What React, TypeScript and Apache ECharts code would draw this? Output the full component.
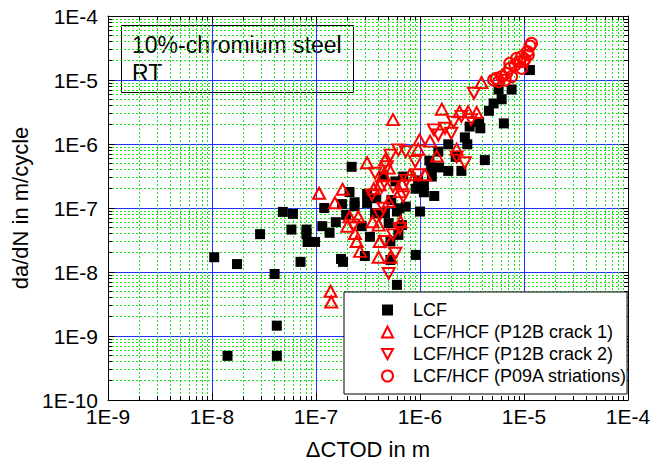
import React, { useEffect, useRef } from "react";
import * as echarts from "echarts";

const xTickValues = [1e-9, 1e-8, 1e-7, 1e-6, 1e-5, 1e-4];
const yTickValues = [1e-10, 1e-9, 1e-8, 1e-7, 1e-6, 1e-5, 1e-4];

const seriesNames = [
  "LCF",
  "LCF/HCF (P12B crack 1)",
  "LCF/HCF (P12B crack 2)",
  "LCF/HCF (P09A striations)",
];

const lcf: [number, number][] = [
  [1.05e-8, 1.7e-8], [1.74e-8, 1.33e-8], [2.9e-8, 3.9e-8], [4.0e-8, 9.3e-9], [4.8e-8, 8.7e-8],
  [6.0e-8, 8.1e-8], [5.8e-8, 4.6e-8], [7.1e-8, 1.44e-8], [8.1e-8, 4.6e-8], [8.1e-8, 3.9e-8],
  [8.3e-8, 2.95e-8], [9.8e-8, 2.95e-8], [4.2e-8, 1.45e-9], [4.2e-8, 4.9e-10], [1.41e-8, 4.9e-10],
  [1.2e-7, 1.0e-7], [1.15e-7, 5.2e-8], [1.35e-7, 4.1e-8], [1.55e-7, 6.0e-8], [1.78e-7, 1.15e-7],
  [1.74e-7, 1.6e-8], [1.82e-7, 1.44e-8], [2.1e-7, 1.78e-7], [2.35e-7, 1.23e-7], [2.35e-7, 1.07e-7],
  [1.95e-7, 7.8e-8], [2.75e-7, 5.2e-8], [3.1e-7, 1.66e-7], [3.1e-7, 1.2e-7], [2.95e-7, 1.78e-8],
  [3.3e-7, 3.55e-8], [7.6e-6, 7.1e-6], [5.7e-6, 7.1e-6], [6.1e-6, 5.0e-6], [5.1e-6, 4.3e-6],
  [4.6e-6, 3.3e-6], [6.4e-6, 2.1e-6], [3.7e-6, 2.2e-6], [3.8e-6, 1.76e-6], [3.0e-6, 1.87e-6],
  [2.7e-6, 1.27e-6], [2.85e-6, 9.9e-7], [1.87e-6, 9.9e-7], [2.2e-6, 6.3e-7], [4.2e-6, 5.6e-7],
  [2.5e-6, 3.8e-7], [1.87e-6, 3.8e-7], [1.52e-6, 4.3e-7], [1.23e-6, 5.5e-7], [1.28e-6, 4.3e-7],
  [1.3e-6, 3.1e-7], [1.09e-6, 2.3e-7], [9.6e-7, 2.7e-7], [9.1e-7, 2.0e-7], [1.09e-6, 1.76e-7],
  [1.37e-6, 1.54e-7], [7.3e-7, 1.05e-7], [6.3e-7, 9.9e-8], [6.0e-7, 8.8e-8], [1.0e-6, 8.8e-8],
  [5.3e-7, 1.33e-7], [2.2e-7, 4.4e-7], [3.8e-7, 1.42e-7], [3.7e-7, 8.3e-8], [4.6e-7, 8.3e-8],
  [5.0e-7, 5.8e-8], [6.7e-7, 5.4e-8], [6.2e-7, 3.8e-8], [5.2e-7, 3.0e-8], [5.2e-7, 1.54e-8],
  [9.1e-7, 1.85e-8], [4.45e-7, 3.1e-7], [5.8e-7, 2.6e-7], [6.9e-7, 3.1e-7], [1.5e-6, 7.6e-7],
  [1.14e-5, 1.43e-5], [6.0e-7, 6.3e-9],
];

const crack1: [number, number][] = [
  [3.9e-6, 9.1e-6], [5.5e-7, 2.4e-6], [1.62e-6, 3.5e-6], [2.4e-6, 3.2e-6], [2.9e-6, 3.2e-6],
  [3.5e-6, 3.1e-6], [9.9e-7, 1.16e-6], [1.25e-6, 1.11e-6], [9.6e-7, 8.3e-7], [1.45e-6, 6.5e-7],
  [2.25e-6, 8.3e-7], [3.1e-7, 5.1e-7], [1.8e-7, 1.96e-7], [1.52e-7, 1.21e-7], [4.6e-7, 5.6e-7],
  [5.0e-7, 4.2e-7], [4.45e-7, 3.3e-7], [1.12e-6, 3.3e-7], [8.0e-7, 3.3e-7], [6.7e-7, 2.4e-7],
  [3.6e-7, 2.0e-7], [4.1e-7, 2.3e-7], [6.4e-7, 1.8e-7], [5.0e-7, 1.26e-7], [2.1e-7, 7.3e-8],
  [2.55e-7, 7.3e-8], [2.37e-7, 4.0e-8], [2.46e-7, 3.0e-8], [2.65e-7, 2.1e-8], [3.5e-7, 6.1e-8],
  [4.0e-7, 5.4e-8], [6.5e-7, 6.1e-8], [4.1e-7, 3.0e-8], [4.0e-7, 1.7e-8], [5.2e-7, 1.7e-8],
  [1.07e-7, 1.7e-7], [2.0e-7, 5.2e-8], [1.38e-7, 5.0e-9], [1.4e-7, 3.4e-9],
];

const crack2: [number, number][] = [
  [3.3e-6, 6.2e-6], [2.1e-6, 2.2e-6], [3.1e-6, 2.4e-6], [2.5e-6, 2.7e-6], [1.74e-6, 1.76e-6],
  [1.36e-6, 1.66e-6], [1.5e-6, 1.38e-6], [2.0e-6, 1.47e-6], [6.2e-7, 8.1e-7], [7.3e-7, 7.6e-7],
  [9.0e-7, 5.3e-7], [5.2e-7, 6.7e-7], [2.25e-6, 6.3e-7], [2.7e-6, 5.1e-7], [9.6e-7, 3.3e-7],
  [7.4e-7, 2.7e-7], [5.5e-7, 2.15e-7], [3.45e-7, 1.6e-7], [4.3e-7, 2.15e-7], [6.9e-7, 1.5e-7],
  [4.45e-7, 9.9e-8], [4.1e-7, 7.8e-8], [5.5e-7, 3.8e-8], [4.6e-7, 3.0e-8], [5.8e-7, 1.96e-8],
  [5.0e-7, 9.5e-9], [2.3e-7, 5.4e-8], [6.4e-7, 4.8e-8], [4.8e-7, 4.4e-7], [3.7e-7, 3.5e-7],
];

const striations: [number, number][] = [
  [5.1e-6, 1.0e-5], [5.4e-6, 1.06e-5], [5.7e-6, 9.4e-6], [6.1e-6, 1.13e-5], [6.6e-6, 1.0e-5],
  [6.8e-6, 1.27e-5], [7.6e-6, 1.13e-5], [7.3e-6, 1.52e-5], [7.3e-6, 1.82e-5], [8.2e-6, 1.71e-5],
  [8.5e-6, 2.18e-5], [9.1e-6, 1.93e-5], [9.5e-6, 1.52e-5], [9.5e-6, 2.32e-5], [9.9e-6, 1.94e-5],
  [1.02e-5, 2.1e-5], [1.1e-5, 2.46e-5], [1.08e-5, 2.77e-5], [1.14e-5, 3.4e-5], [1.18e-5, 3.74e-5],
];

const FONT = '"Liberation Sans", Arial, Helvetica, sans-serif';
const RED = "#ff0000";

const expLabel = (v: number) => "1E" + Math.round(Math.log10(v));

function makeAxis(dir: "x" | "y", main: boolean, ticks: number[]) {
  const min = ticks[0];
  const max = ticks[ticks.length - 1];
  const ax: any = {
    type: "log",
    logBase: 10,
    min,
    max,
    splitNumber: ticks.length - 1,
    axisLine: { show: true, onZero: false, lineStyle: { color: "#000", width: 1 } },
    axisTick: { show: true, inside: true, length: 7, lineStyle: { color: "#000", width: 1 } },
    minorTick: { show: true, splitNumber: 9, length: 4, lineStyle: { color: "#000", width: 1 } },
    splitLine: { show: main, lineStyle: { color: "#1f32ff", width: 1 } },
    minorSplitLine: { show: main, lineStyle: { color: "#22e022", width: 1, type: [2, 2] } },
    axisLabel: {
      show: main,
      fontSize: 21,
      color: "#000",
      fontFamily: FONT,
      margin: dir === "x" ? 6 : 10,
      formatter: expLabel,
    },
  };
  if (dir === "x") {
    ax.position = main ? "bottom" : "top";
    if (main) {
      ax.name = "\u0394CTOD in m";
      ax.nameLocation = "middle";
      ax.nameGap = 38;
      ax.nameTextStyle = { fontSize: 22, color: "#000", fontFamily: FONT };
    }
  } else {
    ax.position = main ? "left" : "right";
    if (main) {
      ax.name = "da/dN in m/cycle";
      ax.nameLocation = "middle";
      ax.nameGap = 74;
      ax.nameTextStyle = { fontSize: 22, color: "#000", fontFamily: FONT };
    }
  }
  return ax;
}

export default function App() {
  const ref = useRef<HTMLDivElement>(null);

  useEffect(() => {
    if (!ref.current) return;
    const chart = echarts.init(ref.current, undefined, { renderer: "svg" });
    const hollow = { color: "rgba(255,255,255,0)", borderColor: RED, borderWidth: 2, opacity: 1 };
    chart.setOption({
      animation: false,
      backgroundColor: "#fff",
      textStyle: { fontFamily: FONT },
      grid: { left: 108, right: 36, top: 16, bottom: 68, containLabel: false },
      xAxis: [makeAxis("x", true, xTickValues), makeAxis("x", false, xTickValues)],
      yAxis: [makeAxis("y", true, yTickValues), makeAxis("y", false, yTickValues)],
      legend: {
        data: seriesNames,
        orient: "vertical",
        left: 344,
        top: 292,
        padding: [9, 0, 9, 37],
        itemGap: 4,
        itemWidth: 11,
        itemHeight: 11,
        backgroundColor: "#fff",
        borderColor: "#000",
        borderWidth: 1,
        borderRadius: 0,
        selectedMode: false,
        z: 20,
        formatter: (name: string) => "{gap| }" + name,
        textStyle: {
          fontSize: 18,
          color: "#000",
          fontFamily: FONT,
          lineHeight: 18,
          rich: { gap: { width: 15, fontSize: 18, lineHeight: 18 } },
        },
      },
      graphic: [
        {
          type: "group",
          left: 121,
          top: 25,
          z: 100,
          children: [
            {
              type: "rect",
              shape: { x: 0.5, y: 0.5, width: 232, height: 67 },
              style: { fill: "#fff", stroke: "#000", lineWidth: 1 },
            },
            {
              type: "text",
              x: 11,
              y: 20,
              style: {
                text: "10%-chromium steel",
                font: `23px ${FONT}`,
                fill: "#000",
                verticalAlign: "middle",
              },
            },
            {
              type: "text",
              x: 11,
              y: 48,
              style: { text: "RT", font: `23px ${FONT}`, fill: "#000", verticalAlign: "middle" },
            },
          ],
        },
      ],
      series: [
        {
          name: seriesNames[0],
          type: "scatter",
          symbol: "rect",
          symbolSize: 10,
          itemStyle: { color: "#000", opacity: 1 },
          data: lcf,
          z: 3,
        },
        {
          name: seriesNames[1],
          type: "scatter",
          symbol: "triangle",
          symbolSize: [12, 11],
          itemStyle: hollow,
          data: crack1,
          z: 4,
        },
        {
          name: seriesNames[2],
          type: "scatter",
          symbol: "path://M0,0L12,0L6,11Z",
          symbolSize: [12, 11],
          itemStyle: hollow,
          data: crack2,
          z: 4,
        },
        {
          name: seriesNames[3],
          type: "scatter",
          symbol: "circle",
          symbolSize: 11,
          itemStyle: hollow,
          data: striations,
          z: 5,
        },
      ],
    });
    return () => chart.dispose();
  }, []);

  return (
    <div
      ref={ref}
      style={{ position: "fixed", left: 0, top: 0, width: 664, height: 468, background: "#fff" }}
    />
  );
}
